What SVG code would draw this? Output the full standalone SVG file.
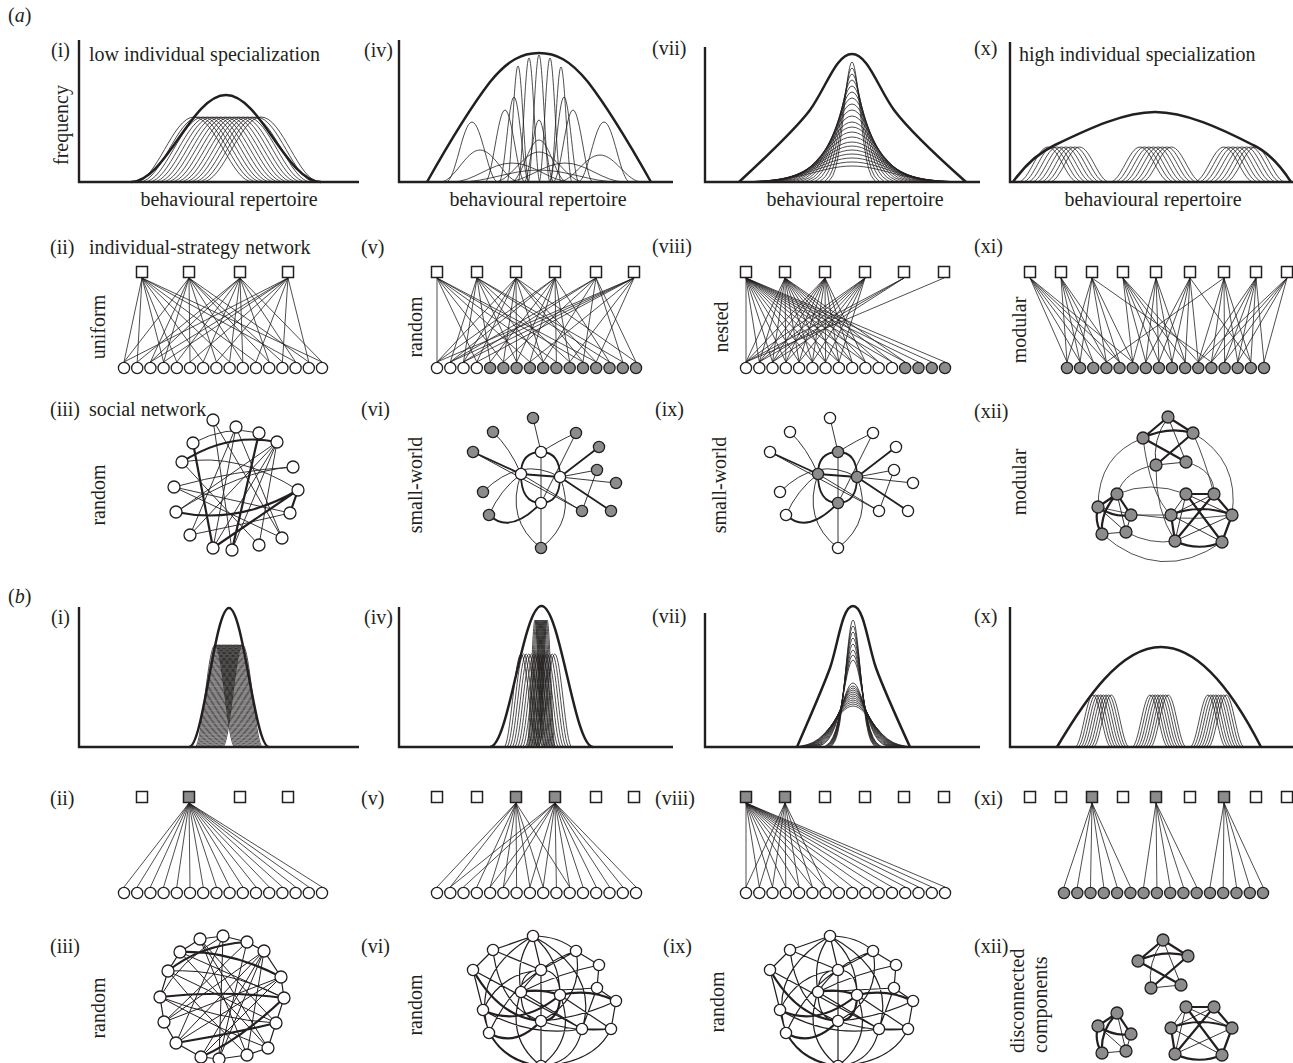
<svg xmlns="http://www.w3.org/2000/svg" width="1293" height="1063" viewBox="0 0 1293 1063">
<style>
.t{font-family:"Liberation Serif","Times New Roman",serif;font-size:20px;fill:#231f20}
.ax{stroke:#231f20;stroke-width:2.4;fill:none}
.env{fill:none;stroke:#231f20;stroke-width:2.5;stroke-linejoin:round}
.th{fill:none;stroke:#231f20;stroke-width:0.8;stroke-linejoin:round}
.u{vector-effect:non-scaling-stroke}
.e{fill:none;stroke:#231f20;stroke-width:0.9}
.eb{fill:none;stroke:#231f20;stroke-width:2.2}
.sq{fill:#fff;stroke:#231f20;stroke-width:1.5}
.sqg{fill:#8c8c8c;stroke:#231f20;stroke-width:1.5}
.cw{fill:#fff;stroke:#231f20;stroke-width:1.3}
.cg{fill:#8c8c8c;stroke:#231f20;stroke-width:1.3}
</style>
<defs>
<path id="bell" class="u" d="M0,0C0.1817,0 0.3183,-1 0.5,-1C0.6817,-1 0.8183,0 1,0"/>
<path id="gs" class="u" d="M-1,0L-0.9,-0.024L-0.8,-0.053L-0.7,-0.106L-0.6,-0.191L-0.5,-0.317L-0.4,-0.48L-0.35,-0.57L-0.3,-0.662L-0.25,-0.75L-0.2,-0.832L-0.15,-0.902L-0.1,-0.955L-0.05,-0.989L0,-1L0.05,-0.989L0.1,-0.955L0.15,-0.902L0.2,-0.832L0.25,-0.75L0.3,-0.662L0.35,-0.57L0.4,-0.48L0.5,-0.317L0.6,-0.191L0.7,-0.106L0.8,-0.053L0.9,-0.024L1,0"/>
<g id="ax8">
<use href="#bell" transform="translate(0,0) scale(60,35)"/><use href="#bell" transform="translate(4.5,0) scale(60,35)"/><use href="#bell" transform="translate(9,0) scale(60,35)"/><use href="#bell" transform="translate(13.5,0) scale(60,35)"/><use href="#bell" transform="translate(18,0) scale(60,35)"/><use href="#bell" transform="translate(22.5,0) scale(60,35)"/><use href="#bell" transform="translate(27,0) scale(60,35)"/><use href="#bell" transform="translate(31.5,0) scale(60,35)"/>
</g>
<g id="bx8">
<use href="#bell" transform="translate(0,0) scale(36,52)"/><use href="#bell" transform="translate(2.6,0) scale(36,52)"/><use href="#bell" transform="translate(5.2,0) scale(36,52)"/><use href="#bell" transform="translate(7.8,0) scale(36,52)"/><use href="#bell" transform="translate(10.4,0) scale(36,52)"/><use href="#bell" transform="translate(13,0) scale(36,52)"/><use href="#bell" transform="translate(15.6,0) scale(36,52)"/><use href="#bell" transform="translate(18.2,0) scale(36,52)"/>
</g>
<g id="hubs"><circle cx="541" cy="452" r="5.6"/><circle cx="521" cy="474" r="5.6"/><circle cx="560" cy="477" r="5.6"/><circle cx="541" cy="503" r="5.6"/></g>
<g id="peri"><circle cx="533" cy="418" r="5.6"/><circle cx="493" cy="432" r="5.6"/><circle cx="576" cy="433" r="5.6"/><circle cx="599" cy="447" r="5.6"/><circle cx="473" cy="452" r="5.6"/><circle cx="597" cy="470" r="5.6"/><circle cx="616" cy="483" r="5.6"/><circle cx="483" cy="492" r="5.6"/><circle cx="582" cy="511" r="5.6"/><circle cx="611" cy="511" r="5.6"/><circle cx="489" cy="515" r="5.6"/><circle cx="541" cy="548" r="5.6"/></g>
<g id="sw-e">
<path class="eb" style="stroke-width:1.8" d="M541,452Q521,452 521,474M541,452Q560,452 560,477M521,474Q521,503 541,503M560,477Q560,503 541,503M521,474L560,477M599,447L560,477M473,452L521,474M611,511L560,477M489,515Q510,535 541,503"/>
<path class="e" d="M541,452L541,503M533,418L541,452M493,432Q510,448 521,474M576,433L541,503M576,433Q560,440 541,452M473,452L582,511M597,470L560,477M597,470L582,511M616,483L560,477M483,492Q520,455 560,477M582,511L521,474M489,515Q500,490 521,474M541,548Q505,520 521,474M541,548Q577,520 560,477M541,548L541,503"/>
</g>
<g id="dn-e">
<path class="e" style="stroke-width:1.2" d="M493,432L533,418M533,418Q560,418 576,433M576,433L599,447M599,447L597,470M597,470L616,483M616,483L611,511M611,511L582,511M473,452L493,432M473,452L483,492M483,492L489,515M489,515Q505,545 541,548M582,511Q575,545 541,548M541,452Q521,452 521,474M541,452Q560,452 560,477M521,474Q521,503 541,503M541,452L541,503M533,418L541,452M533,418Q515,440 521,474M533,418Q560,440 560,477M533,418Q470,455 489,515M533,418Q600,455 582,511M493,432L541,452M493,432Q500,490 541,503M576,433L541,452M576,433Q540,445 521,474M576,433Q585,480 541,503M599,447Q560,455 521,474M473,452L582,511M597,470L521,474M597,470L582,511M616,483Q580,500 541,503M483,492Q500,455 541,452M582,511L521,474M611,511Q575,515 541,503M489,515Q510,470 541,452M541,548Q505,520 521,474M541,548Q577,520 560,477M541,548Q490,540 483,492M541,548Q595,545 611,511M483,492Q530,520 582,511M611,511L560,477M541,548L541,503"/>
<path class="eb" d="M521,474Q540,470 560,477M560,477Q560,503 541,503M473,452Q500,500 541,503M616,483Q590,470 560,477M483,492Q520,510 560,477M489,515Q515,530 541,503"/>
</g>
<g id="mT-e">
<path class="eb" d="M1168,417L1143,438M1143,438Q1168,426 1193,433M1143,438L1186,462M1193,433L1156,465M1168,417L1193,433"/>
<path class="e" d="M1168,417Q1152,440 1156,465M1168,417L1186,462M1156,465L1186,462"/>
</g>
<g id="mL-e">
<path class="eb" d="M1117,494L1098,507M1117,494L1131,515M1098,507Q1114,518 1131,515M1098,507Q1094,522 1102,534M1117,494Q1100,512 1102,534"/>
<path class="e" d="M1131,515L1126,532M1102,534L1126,532M1098,507L1126,532M1117,494L1126,532"/>
</g>
<g id="mR-e">
<path class="eb" d="M1186,494L1214,494M1214,494L1232,515M1171,515Q1200,503 1232,515M1171,515L1175,541M1232,515L1222,542M1175,541Q1198,552 1222,542M1186,494L1222,542M1214,494L1175,541"/>
<path class="e" d="M1186,494L1171,515M1186,494L1175,541M1214,494L1171,515M1232,515L1175,541M1171,515L1222,542M1186,494L1232,515"/>
</g>
<g id="mT-n"><circle cx="1168" cy="417" r="6"/><circle cx="1143" cy="438" r="6"/><circle cx="1193" cy="433" r="6"/><circle cx="1156" cy="465" r="6"/><circle cx="1186" cy="462" r="6"/></g>
<g id="mL-n"><circle cx="1117" cy="494" r="6"/><circle cx="1098" cy="507" r="6"/><circle cx="1131" cy="515" r="6"/><circle cx="1102" cy="534" r="6"/><circle cx="1126" cy="532" r="6"/></g>
<g id="mR-n"><circle cx="1186" cy="494" r="6"/><circle cx="1214" cy="494" r="6"/><circle cx="1171" cy="515" r="6"/><circle cx="1232" cy="515" r="6"/><circle cx="1175" cy="541" r="6"/><circle cx="1222" cy="542" r="6"/></g>
</defs>
<rect width="1293" height="1063" fill="#fff"/>

<g id="labels">
<text class="t" x="8" y="22">(<tspan font-style="italic">a</tspan>)</text>
<text class="t" x="8" y="603">(<tspan font-style="italic">b</tspan>)</text>
<text class="t" x="51" y="57">(i)</text>
<text class="t" x="364" y="57">(iv)</text>
<text class="t" x="652" y="55">(vii)</text>
<text class="t" x="974" y="55">(x)</text>
<text class="t" x="89" y="61">low individual specialization</text>
<text class="t" x="1019" y="61">high individual specialization</text>
<text class="t" x="68" y="125" text-anchor="middle" transform="rotate(-90 68 125)">frequency</text>
<text class="t" x="229" y="206" text-anchor="middle">behavioural repertoire</text>
<text class="t" x="538" y="206" text-anchor="middle">behavioural repertoire</text>
<text class="t" x="855" y="206" text-anchor="middle">behavioural repertoire</text>
<text class="t" x="1153" y="206" text-anchor="middle">behavioural repertoire</text>
<text class="t" x="50" y="254">(ii)</text>
<text class="t" x="89" y="254">individual-strategy network</text>
<text class="t" x="361" y="254">(v)</text>
<text class="t" x="652" y="253">(viii)</text>
<text class="t" x="974" y="253">(xi)</text>
<text class="t" x="105" y="327" text-anchor="middle" transform="rotate(-90 105 327)">uniform</text>
<text class="t" x="422" y="327" text-anchor="middle" transform="rotate(-90 422 327)">random</text>
<text class="t" x="728" y="327" text-anchor="middle" transform="rotate(-90 728 327)">nested</text>
<text class="t" x="1026" y="330" text-anchor="middle" transform="rotate(-90 1026 330)">modular</text>
<text class="t" x="50" y="416">(iii)</text>
<text class="t" x="89" y="416">social network</text>
<text class="t" x="361" y="416">(vi)</text>
<text class="t" x="655" y="416">(ix)</text>
<text class="t" x="974" y="418">(xii)</text>
<text class="t" x="105" y="495" text-anchor="middle" transform="rotate(-90 105 495)">random</text>
<text class="t" x="422" y="485" text-anchor="middle" transform="rotate(-90 422 485)">small-world</text>
<text class="t" x="726" y="485" text-anchor="middle" transform="rotate(-90 726 485)">small-world</text>
<text class="t" x="1026" y="482" text-anchor="middle" transform="rotate(-90 1026 482)">modular</text>
<text class="t" x="51" y="624">(i)</text>
<text class="t" x="364" y="624">(iv)</text>
<text class="t" x="652" y="623">(vii)</text>
<text class="t" x="974" y="623">(x)</text>
<text class="t" x="50" y="805">(ii)</text>
<text class="t" x="361" y="805">(v)</text>
<text class="t" x="655" y="805">(viii)</text>
<text class="t" x="974" y="805">(xi)</text>
<text class="t" x="50" y="953">(iii)</text>
<text class="t" x="361" y="953">(vi)</text>
<text class="t" x="663" y="953">(ix)</text>
<text class="t" x="974" y="953">(xii)</text>
<text class="t" x="105" y="1008" text-anchor="middle" transform="rotate(-90 105 1008)">random</text>
<text class="t" x="422" y="1005" text-anchor="middle" transform="rotate(-90 422 1005)">random</text>
<text class="t" x="724" y="1002" text-anchor="middle" transform="rotate(-90 724 1002)">random</text>
<text class="t" x="1024" y="1053" transform="rotate(-90 1024 1053)">disconnected</text>
<text class="t" x="1047" y="1053" transform="rotate(-90 1047 1053)">components</text>
</g>

<g id="a-i">
<path class="ax" d="M79,40V182H359"/>
<g class="th">
<use href="#bell" transform="translate(135,182) scale(118,65)"/><use href="#bell" transform="translate(139.47,182) scale(118,65)"/><use href="#bell" transform="translate(143.94,182) scale(118,65)"/><use href="#bell" transform="translate(148.41,182) scale(118,65)"/><use href="#bell" transform="translate(152.88,182) scale(118,65)"/><use href="#bell" transform="translate(157.35,182) scale(118,65)"/><use href="#bell" transform="translate(161.82,182) scale(118,65)"/><use href="#bell" transform="translate(166.29,182) scale(118,65)"/><use href="#bell" transform="translate(170.76,182) scale(118,65)"/><use href="#bell" transform="translate(175.23,182) scale(118,65)"/><use href="#bell" transform="translate(179.7,182) scale(118,65)"/><use href="#bell" transform="translate(184.17,182) scale(118,65)"/><use href="#bell" transform="translate(188.64,182) scale(118,65)"/><use href="#bell" transform="translate(193.11,182) scale(118,65)"/><use href="#bell" transform="translate(197.58,182) scale(118,65)"/><use href="#bell" transform="translate(202.05,182) scale(118,65)"/>
</g>
<use href="#bell" class="env" transform="translate(131,182) scale(190,87)"/>
</g>

<g id="a-iv">
<path class="ax" d="M399,40V182H673"/>
<g class="th">
<use href="#bell" transform="translate(507,182) scale(22,116)"/><use href="#bell" transform="translate(518,182) scale(22,124)"/><use href="#bell" transform="translate(528,182) scale(22,127)"/><use href="#bell" transform="translate(539,182) scale(22,124)"/><use href="#bell" transform="translate(550,182) scale(22,115)"/><use href="#bell" transform="translate(499,182) scale(30,85)"/><use href="#bell" transform="translate(549,182) scale(30,85)"/><use href="#bell" transform="translate(524,182) scale(30,62)"/><use href="#bell" transform="translate(446,182) scale(52,60)"/><use href="#bell" transform="translate(578,182) scale(52,60)"/><use href="#bell" transform="translate(440,182) scale(80,32)"/><use href="#bell" transform="translate(494,182) scale(90,30)"/><use href="#bell" transform="translate(558,182) scale(84,27)"/><use href="#bell" transform="translate(452,182) scale(120,19)"/><use href="#bell" transform="translate(505,182) scale(120,19)"/><use href="#bell" transform="translate(511,182) scale(56,42)"/><use href="#bell" transform="translate(459,182) scale(160,12)"/><use href="#bell" transform="translate(485,182) scale(40,72)"/><use href="#bell" transform="translate(553,182) scale(40,72)"/>
</g>
<path class="env" d="M427,182C445,150 470,108 490,82C508,60 522,53 539,53C556,53 570,60 588,82C608,108 633,150 651,182"/>
</g>

<g id="a-vii">
<path class="ax" d="M705,47V182H980"/>
<g class="th">
<use href="#gs" transform="translate(852,182) scale(24,120)"/><use href="#gs" transform="translate(852,182) scale(28,114)"/><use href="#gs" transform="translate(852,182) scale(33,108)"/><use href="#gs" transform="translate(852,182) scale(38,102)"/><use href="#gs" transform="translate(852,182) scale(43,96)"/><use href="#gs" transform="translate(852,182) scale(48,90)"/><use href="#gs" transform="translate(852,182) scale(53,84)"/><use href="#gs" transform="translate(852,182) scale(58,78)"/><use href="#gs" transform="translate(852,182) scale(63,72)"/><use href="#gs" transform="translate(852,182) scale(68,66)"/><use href="#gs" transform="translate(852,182) scale(73,60)"/><use href="#gs" transform="translate(852,182) scale(78,55)"/><use href="#gs" transform="translate(852,182) scale(82,50)"/><use href="#gs" transform="translate(852,182) scale(86,45)"/><use href="#gs" transform="translate(852,182) scale(90,40)"/><use href="#gs" transform="translate(852,182) scale(94,36)"/><use href="#gs" transform="translate(852,182) scale(98,32)"/><use href="#gs" transform="translate(852,182) scale(102,28)"/><use href="#gs" transform="translate(852,182) scale(106,24)"/><use href="#gs" transform="translate(852,182) scale(110,20)"/><use href="#gs" transform="translate(852,182) scale(113,16)"/>
</g>
<path class="env" d="M739,182C765,158 795,130 810,110C826,88 836,54 852,54C868,54 878,88 894,110C909,130 939,158 966,182"/>
</g>

<g id="a-x">
<path class="ax" d="M1010,42V182H1293"/>
<g class="th">
<use href="#ax8" transform="translate(1018,182)"/><use href="#ax8" transform="translate(1110,182)"/><use href="#ax8" transform="translate(1194,182)"/>
</g>
<path class="env" d="M1013,182C1025,165 1040,152 1055,145C1090,128 1125,112 1155,112C1185,112 1220,128 1253,145C1268,152 1280,165 1291,182"/>
</g>

<g id="b-i">
<path class="ax" d="M79,607V747H359"/>
<g class="th">
<use href="#bell" transform="translate(195,747) scale(40,102)"/><use href="#bell" transform="translate(196.2,747) scale(40,102)"/><use href="#bell" transform="translate(197.4,747) scale(40,102)"/><use href="#bell" transform="translate(198.6,747) scale(40,102)"/><use href="#bell" transform="translate(199.8,747) scale(40,102)"/><use href="#bell" transform="translate(201,747) scale(40,102)"/><use href="#bell" transform="translate(202.2,747) scale(40,102)"/><use href="#bell" transform="translate(203.4,747) scale(40,102)"/><use href="#bell" transform="translate(204.6,747) scale(40,102)"/><use href="#bell" transform="translate(205.8,747) scale(40,102)"/><use href="#bell" transform="translate(207,747) scale(40,102)"/><use href="#bell" transform="translate(208.2,747) scale(40,102)"/><use href="#bell" transform="translate(209.4,747) scale(40,102)"/><use href="#bell" transform="translate(210.6,747) scale(40,102)"/><use href="#bell" transform="translate(211.8,747) scale(40,102)"/><use href="#bell" transform="translate(213,747) scale(40,102)"/><use href="#bell" transform="translate(214.2,747) scale(40,102)"/><use href="#bell" transform="translate(215.4,747) scale(40,102)"/><use href="#bell" transform="translate(216.6,747) scale(40,102)"/><use href="#bell" transform="translate(217.8,747) scale(40,102)"/><use href="#bell" transform="translate(219,747) scale(40,102)"/><use href="#bell" transform="translate(220.2,747) scale(40,102)"/><use href="#bell" transform="translate(221.4,747) scale(40,102)"/><use href="#bell" transform="translate(222.6,747) scale(40,102)"/>
</g>
<use href="#bell" class="env" transform="translate(189,747) scale(80,139)"/>
</g>

<g id="b-iv">
<path class="ax" d="M399,607V747H673"/>
<g class="th">
<use href="#bell" transform="translate(527,747) scale(16,127)"/><use href="#bell" transform="translate(528.1,747) scale(16,127)"/><use href="#bell" transform="translate(529.2,747) scale(16,127)"/><use href="#bell" transform="translate(530.3,747) scale(16,127)"/><use href="#bell" transform="translate(531.4,747) scale(16,127)"/><use href="#bell" transform="translate(532.5,747) scale(16,127)"/><use href="#bell" transform="translate(533.6,747) scale(16,127)"/><use href="#bell" transform="translate(534.7,747) scale(16,127)"/><use href="#bell" transform="translate(535.8,747) scale(16,127)"/><use href="#bell" transform="translate(536.9,747) scale(16,127)"/><use href="#bell" transform="translate(538,747) scale(16,127)"/><use href="#bell" transform="translate(539.1,747) scale(16,127)"/>
<use href="#bell" transform="translate(504,747) scale(34,93)"/><use href="#bell" transform="translate(506.6,747) scale(34,93)"/><use href="#bell" transform="translate(509.2,747) scale(34,93)"/><use href="#bell" transform="translate(511.8,747) scale(34,93)"/><use href="#bell" transform="translate(514.4,747) scale(34,93)"/><use href="#bell" transform="translate(517,747) scale(34,93)"/><use href="#bell" transform="translate(519.6,747) scale(34,93)"/><use href="#bell" transform="translate(522.2,747) scale(34,93)"/><use href="#bell" transform="translate(524.8,747) scale(34,93)"/><use href="#bell" transform="translate(527.4,747) scale(34,93)"/><use href="#bell" transform="translate(530,747) scale(34,93)"/><use href="#bell" transform="translate(532.6,747) scale(34,93)"/><use href="#bell" transform="translate(535.2,747) scale(34,93)"/><use href="#bell" transform="translate(537.8,747) scale(34,93)"/>
</g>
<use href="#bell" class="env" transform="translate(490,747) scale(103,141)"/>
</g>

<g id="b-vii">
<path class="ax" d="M705,613V747H980"/>
<g class="th">
<use href="#gs" transform="translate(853,747) scale(22,127)"/><use href="#gs" transform="translate(853,747) scale(23,121)"/><use href="#gs" transform="translate(853,747) scale(24,115)"/><use href="#gs" transform="translate(853,747) scale(25,109)"/><use href="#gs" transform="translate(853,747) scale(26,103)"/><use href="#gs" transform="translate(853,747) scale(27,97)"/><use href="#gs" transform="translate(853,747) scale(28,92)"/><use href="#gs" transform="translate(853,747) scale(29,87)"/>
<use href="#gs" transform="translate(853,747) scale(36,64)"/><use href="#gs" transform="translate(853,747) scale(38,61)"/><use href="#gs" transform="translate(853,747) scale(40,59)"/><use href="#gs" transform="translate(853,747) scale(42,57)"/><use href="#gs" transform="translate(853,747) scale(44,55)"/><use href="#gs" transform="translate(853,747) scale(46,53)"/><use href="#gs" transform="translate(853,747) scale(48,51)"/><use href="#gs" transform="translate(853,747) scale(50,49)"/><use href="#gs" transform="translate(853,747) scale(52,47)"/><use href="#gs" transform="translate(853,747) scale(54,45)"/><use href="#gs" transform="translate(853,747) scale(56,43)"/><use href="#gs" transform="translate(853,747) scale(58,41)"/>
</g>
<path class="env" d="M797,747C812,712 822,690 830,668C838,645 842,606 853,606C864,606 868,645 876,668C884,690 894,712 910,747"/>
</g>

<g id="b-x">
<path class="ax" d="M1010,607V747H1293"/>
<g class="th">
<use href="#bx8" transform="translate(1075,747)"/><use href="#bx8" transform="translate(1132,747)"/><use href="#bx8" transform="translate(1190,747)"/>
</g>
<path class="env" d="M1057,747C1085,700 1120,647 1161,647C1202,647 1237,700 1261,747"/>
</g>

<g id="connectors">
<path id="e-a-ii" class="e" style="stroke-width:0.8" d="M142,278L124,362M142,278L137.2,362M142,278L163.6,362M142,278L176.8,362M142,278L203.2,362M142,278L229.6,362M142,278L256,362M142,278L295.6,362M142,278L322,362M189,278L124,362M189,278L150.4,362M189,278L163.6,362M189,278L190,362M189,278L216.4,362M189,278L242.8,362M189,278L269.2,362M189,278L282.4,362M189,278L308.8,362M240,278L137.2,362M240,278L150.4,362M240,278L176.8,362M240,278L203.2,362M240,278L229.6,362M240,278L242.8,362M240,278L269.2,362M240,278L295.6,362M240,278L322,362M288,278L124,362M288,278L150.4,362M288,278L163.6,362M288,278L190,362M288,278L216.4,362M288,278L256,362M288,278L282.4,362M288,278L308.8,362"/>
<path id="e-a-v" class="e" style="stroke-width:0.8" d="M437,278L437,362M437,278L476.8,362M437,278L503.4,362M437,278L529.9,362M437,278L556.4,362M437,278L583,362M437,278L596.2,362M477,278L450.3,362M477,278L463.5,362M477,278L490.1,362M477,278L516.6,362M477,278L543.2,362M477,278L569.7,362M477,278L609.5,362M477,278L622.8,362M516,278L437,362M516,278L463.5,362M516,278L476.8,362M516,278L503.4,362M516,278L516.6,362M516,278L543.2,362M516,278L583,362M516,278L596.2,362M516,278L636,362M555,278L437,362M555,278L450.3,362M555,278L490.1,362M555,278L516.6,362M555,278L529.9,362M555,278L556.4,362M555,278L569.7,362M555,278L609.5,362M596,278L450.3,362M596,278L463.5,362M596,278L503.4,362M596,278L543.2,362M596,278L583,362M596,278L622.8,362M596,278L636,362M634,278L437,362M634,278L450.3,362M634,278L463.5,362M634,278L476.8,362M634,278L529.9,362M634,278L569.7,362M634,278L596.2,362"/>
<path id="e-a-viii" class="e" style="stroke-width:0.8" d="M746,278L746,362M746,278L759.3,362M746,278L772.5,362M746,278L785.8,362M746,278L799.1,362M746,278L812.4,362M746,278L825.6,362M746,278L838.9,362M746,278L852.2,362M746,278L865.4,362M746,278L878.7,362M746,278L892,362M746,278L905.2,362M746,278L918.5,362M746,278L931.8,362M746,278L945,362M785,278L746,362M785,278L759.3,362M785,278L772.5,362M785,278L785.8,362M785,278L799.1,362M785,278L812.4,362M785,278L825.6,362M785,278L838.9,362M785,278L852.2,362M785,278L865.4,362M785,278L878.7,362M785,278L892,362M785,278L905.2,362M825,278L746,362M825,278L759.3,362M825,278L772.5,362M825,278L785.8,362M825,278L799.1,362M825,278L812.4,362M825,278L825.6,362M825,278L838.9,362M825,278L852.2,362M825,278L865.4,362M865,278L746,362M865,278L759.3,362M865,278L772.5,362M865,278L785.8,362M865,278L799.1,362M865,278L812.4,362M865,278L825.6,362M865,278L838.9,362M904,278L746,362M904,278L759.3,362M904,278L772.5,362M944,278L746,362"/>
<path id="e-a-xi" class="e" style="stroke-width:0.8" d="M1030,278L1067,362M1030,278L1080.1,362M1030,278L1093.3,362M1030,278L1106.4,362M1030,278L1119.5,362M1030,278L1132.7,362M1061,278L1067,362M1061,278L1080.1,362M1061,278L1093.3,362M1061,278L1106.4,362M1061,278L1119.5,362M1092,278L1067,362M1092,278L1080.1,362M1092,278L1106.4,362M1092,278L1119.5,362M1092,278L1132.7,362M1092,278L1211.4,362M1123,278L1132.7,362M1123,278L1145.8,362M1123,278L1158.9,362M1123,278L1172,362M1123,278L1185.2,362M1123,278L1198.3,362M1156,278L1132.7,362M1156,278L1145.8,362M1156,278L1158.9,362M1156,278L1172,362M1156,278L1185.2,362M1190,278L1145.8,362M1190,278L1158.9,362M1190,278L1172,362M1190,278L1185.2,362M1190,278L1198.3,362M1190,278L1250.8,362M1224,278L1106.4,362M1224,278L1198.3,362M1224,278L1211.4,362M1224,278L1224.6,362M1224,278L1237.7,362M1224,278L1250.8,362M1256,278L1198.3,362M1256,278L1211.4,362M1256,278L1224.6,362M1256,278L1237.7,362M1256,278L1250.8,362M1256,278L1264,362M1287,278L1198.3,362M1287,278L1211.4,362M1287,278L1224.6,362M1287,278L1237.7,362M1287,278L1264,362"/>
<path id="e-b-ii" class="e" style="stroke-width:0.8" d="M189,803L124,887M189,803L137.2,887M189,803L150.4,887M189,803L163.6,887M189,803L176.8,887M189,803L190,887M189,803L203.2,887M189,803L216.4,887M189,803L229.6,887M189,803L242.8,887M189,803L256,887M189,803L269.2,887M189,803L282.4,887M189,803L295.6,887M189,803L308.8,887M189,803L322,887"/>
<path id="e-b-v" class="e" style="stroke-width:0.8" d="M516,803L437,887M516,803L450.3,887M516,803L476.8,887M516,803L490.1,887M516,803L503.4,887M516,803L516.6,887M516,803L529.9,887M516,803L543.2,887M516,803L569.7,887M555,803L450.3,887M555,803L463.5,887M555,803L490.1,887M555,803L503.4,887M555,803L529.9,887M555,803L543.2,887M555,803L556.4,887M555,803L569.7,887M555,803L583,887M555,803L596.2,887M555,803L609.5,887M555,803L622.8,887M555,803L636,887"/>
<path id="e-b-viii" class="e" style="stroke-width:0.8" d="M746,803L746,887M746,803L759.3,887M746,803L772.5,887M746,803L785.8,887M746,803L799.1,887M746,803L812.4,887M746,803L825.6,887M746,803L838.9,887M746,803L852.2,887M746,803L865.4,887M746,803L878.7,887M746,803L892,887M746,803L905.2,887M746,803L918.5,887M746,803L931.8,887M746,803L945,887M785,803L746,887M785,803L759.3,887M785,803L772.5,887M785,803L785.8,887M785,803L799.1,887M785,803L812.4,887M785,803L825.6,887"/>
<path id="e-b-xi" class="e" style="stroke-width:0.8" d="M1092,803L1064,887M1092,803L1077.3,887M1092,803L1090.5,887M1092,803L1103.8,887M1092,803L1117.1,887M1092,803L1130.4,887M1156,803L1143.6,887M1156,803L1156.9,887M1156,803L1170.2,887M1156,803L1183.4,887M1156,803L1196.7,887M1224,803L1210,887M1224,803L1223.2,887M1224,803L1236.5,887M1224,803L1249.8,887M1224,803L1263,887"/>
<g id="e-a-iii">
<path class="e" d="M213,420L232,550M236,427L213,548M277,442L213,548M277,442L232,550M277,442L259,545M277,442L190,535M277,442L176,512M182,462Q238,452 298,490M174,487Q236,470 293,467M290,513Q240,525 190,535M193,443Q226,425 259,433M174,487L282,538M182,462L259,545M190,535L236,427M176,512Q240,470 293,467M282,538L213,420M290,513Q232,500 174,487M236,427L282,538"/>
<path class="eb" d="M182,462Q228,432 277,442M193,443L213,548M298,490Q238,525 176,512M298,490L290,513M259,433L232,550M298,490L213,548"/>
</g>
<use id="e-a-vi" href="#sw-e"/>
<use id="e-a-ix" href="#sw-e" transform="translate(297,0)"/>
<g id="e-a-xii">
<use href="#mT-e"/><use href="#mL-e"/><use href="#mR-e"/>
<path class="e" style="stroke-width:0.8" d="M1143,438Q1098,455 1098,507M1193,433Q1240,460 1232,515M1156,465Q1125,470 1117,494M1186,462Q1215,470 1214,494M1143,438Q1150,495 1171,515M1193,433Q1205,460 1214,494M1156,465Q1155,510 1175,541M1117,494Q1150,480 1186,494M1131,515L1171,515M1126,532Q1150,545 1175,541M1102,534Q1160,585 1222,542M1098,507Q1165,525 1232,515"/>
</g>
<g id="e-b-iii">
<path class="e" style="stroke-width:1.2" d="M200,939L223,936L247,942L264,951L281,977L284,998L276,1023L268,1048L247,1055L219,1059L201,1057L176,1043L164,1022L160,997L168,971L180,952Z"/>
<path class="e" style="stroke-width:1" d="M264,951L247,1055M264,951L219,1059M264,951L201,1057M264,951L176,1043M264,951L164,1022M168,971Q226,968 284,998M160,997Q220,1020 276,1023M164,1022L281,977M200,939L247,1055M200,939Q240,985 276,1023M223,936L219,1059M223,936L176,1043M223,936Q180,960 160,997M247,942L164,1022M281,977L176,1043M276,1023L168,971M268,1048L180,952M268,1048L200,939M247,1055Q200,1010 168,971M219,1059L247,942M201,1057L281,977M180,952L284,998M160,997Q220,1030 268,1048"/>
<path class="eb" d="M180,952Q230,950 281,977M160,997Q222,990 284,998M284,998Q240,1040 201,1057M176,1043Q225,1035 276,1023M247,942Q200,945 168,971"/>
</g>
<use id="e-b-vi" href="#dn-e" transform="translate(0,518)"/>
<use id="e-b-ix" href="#dn-e" transform="translate(297,518)"/>
<g id="e-b-xii">
<use href="#mT-e" transform="translate(-5,523)"/><use href="#mL-e" transform="translate(0,519)"/><use href="#mR-e" transform="translate(0,513)"/>
</g>
</g>

<g id="nodes-a-ii">
<rect class="sq" x="136.5" y="266.5" width="11" height="11"/><rect class="sq" x="183.5" y="266.5" width="11" height="11"/><rect class="sq" x="234.5" y="266.5" width="11" height="11"/><rect class="sq" x="282.5" y="266.5" width="11" height="11"/>
<g class="cw"><circle cx="124" cy="368" r="5.6"/><circle cx="137.2" cy="368" r="5.6"/><circle cx="150.4" cy="368" r="5.6"/><circle cx="163.6" cy="368" r="5.6"/><circle cx="176.8" cy="368" r="5.6"/><circle cx="190" cy="368" r="5.6"/><circle cx="203.2" cy="368" r="5.6"/><circle cx="216.4" cy="368" r="5.6"/><circle cx="229.6" cy="368" r="5.6"/><circle cx="242.8" cy="368" r="5.6"/><circle cx="256" cy="368" r="5.6"/><circle cx="269.2" cy="368" r="5.6"/><circle cx="282.4" cy="368" r="5.6"/><circle cx="295.6" cy="368" r="5.6"/><circle cx="308.8" cy="368" r="5.6"/><circle cx="322" cy="368" r="5.6"/></g>
</g>
<g id="nodes-a-v">
<rect class="sq" x="431.5" y="266.5" width="11" height="11"/><rect class="sq" x="471.5" y="266.5" width="11" height="11"/><rect class="sq" x="510.5" y="266.5" width="11" height="11"/><rect class="sq" x="549.5" y="266.5" width="11" height="11"/><rect class="sq" x="590.5" y="266.5" width="11" height="11"/><rect class="sq" x="628.5" y="266.5" width="11" height="11"/>
<g class="cw"><circle cx="437" cy="368" r="5.6"/><circle cx="450.3" cy="368" r="5.6"/><circle cx="463.5" cy="368" r="5.6"/><circle cx="476.8" cy="368" r="5.6"/></g>
<g class="cg"><circle cx="490.1" cy="368" r="5.6"/><circle cx="503.4" cy="368" r="5.6"/><circle cx="516.6" cy="368" r="5.6"/><circle cx="529.9" cy="368" r="5.6"/><circle cx="543.2" cy="368" r="5.6"/><circle cx="556.4" cy="368" r="5.6"/><circle cx="569.7" cy="368" r="5.6"/><circle cx="583" cy="368" r="5.6"/><circle cx="596.2" cy="368" r="5.6"/><circle cx="609.5" cy="368" r="5.6"/><circle cx="622.8" cy="368" r="5.6"/><circle cx="636" cy="368" r="5.6"/></g>
</g>
<g id="nodes-a-viii">
<rect class="sq" x="740.5" y="266.5" width="11" height="11"/><rect class="sq" x="779.5" y="266.5" width="11" height="11"/><rect class="sq" x="819.5" y="266.5" width="11" height="11"/><rect class="sq" x="859.5" y="266.5" width="11" height="11"/><rect class="sq" x="898.5" y="266.5" width="11" height="11"/><rect class="sq" x="938.5" y="266.5" width="11" height="11"/>
<g class="cw"><circle cx="746" cy="368" r="5.6"/><circle cx="759.3" cy="368" r="5.6"/><circle cx="772.5" cy="368" r="5.6"/><circle cx="785.8" cy="368" r="5.6"/><circle cx="799.1" cy="368" r="5.6"/><circle cx="812.4" cy="368" r="5.6"/><circle cx="825.6" cy="368" r="5.6"/><circle cx="838.9" cy="368" r="5.6"/><circle cx="852.2" cy="368" r="5.6"/><circle cx="865.4" cy="368" r="5.6"/><circle cx="878.7" cy="368" r="5.6"/><circle cx="892" cy="368" r="5.6"/></g>
<g class="cg"><circle cx="905.2" cy="368" r="5.6"/><circle cx="918.5" cy="368" r="5.6"/><circle cx="931.8" cy="368" r="5.6"/><circle cx="945" cy="368" r="5.6"/></g>
</g>
<g id="nodes-a-xi">
<rect class="sq" x="1024.5" y="266.5" width="11" height="11"/><rect class="sq" x="1055.5" y="266.5" width="11" height="11"/><rect class="sq" x="1086.5" y="266.5" width="11" height="11"/><rect class="sq" x="1117.5" y="266.5" width="11" height="11"/><rect class="sq" x="1150.5" y="266.5" width="11" height="11"/><rect class="sq" x="1184.5" y="266.5" width="11" height="11"/><rect class="sq" x="1218.5" y="266.5" width="11" height="11"/><rect class="sq" x="1250.5" y="266.5" width="11" height="11"/><rect class="sq" x="1281.5" y="266.5" width="11" height="11"/>
<g class="cg"><circle cx="1067" cy="368" r="5.6"/><circle cx="1080.1" cy="368" r="5.6"/><circle cx="1093.3" cy="368" r="5.6"/><circle cx="1106.4" cy="368" r="5.6"/><circle cx="1119.5" cy="368" r="5.6"/><circle cx="1132.7" cy="368" r="5.6"/><circle cx="1145.8" cy="368" r="5.6"/><circle cx="1158.9" cy="368" r="5.6"/><circle cx="1172" cy="368" r="5.6"/><circle cx="1185.2" cy="368" r="5.6"/><circle cx="1198.3" cy="368" r="5.6"/><circle cx="1211.4" cy="368" r="5.6"/><circle cx="1224.6" cy="368" r="5.6"/><circle cx="1237.7" cy="368" r="5.6"/><circle cx="1250.8" cy="368" r="5.6"/><circle cx="1264" cy="368" r="5.6"/></g>
</g>

<g id="nodes-a-iii" class="cw">
<circle cx="213" cy="420" r="6"/><circle cx="236" cy="427" r="6"/><circle cx="259" cy="433" r="6"/><circle cx="193" cy="443" r="6"/><circle cx="277" cy="442" r="6"/><circle cx="182" cy="462" r="6"/><circle cx="293" cy="467" r="6"/><circle cx="174" cy="487" r="6"/><circle cx="298" cy="490" r="6"/><circle cx="176" cy="512" r="6"/><circle cx="290" cy="513" r="6"/><circle cx="190" cy="535" r="6"/><circle cx="282" cy="538" r="6"/><circle cx="213" cy="548" r="6"/><circle cx="232" cy="550" r="6"/><circle cx="259" cy="545" r="6"/>
</g>
<g id="nodes-a-vi"><use href="#peri" class="cg"/><use href="#hubs" class="cw"/></g>
<g id="nodes-a-ix" transform="translate(297,0)"><use href="#peri" class="cw"/><use href="#hubs" class="cg"/></g>
<g id="nodes-a-xii" class="cg"><use href="#mT-n"/><use href="#mL-n"/><use href="#mR-n"/></g>

<g id="nodes-b-ii">
<rect class="sq" x="136.5" y="791.5" width="11" height="11"/><rect class="sqg" x="183.5" y="791.5" width="11" height="11"/><rect class="sq" x="234.5" y="791.5" width="11" height="11"/><rect class="sq" x="282.5" y="791.5" width="11" height="11"/>
<g class="cw"><circle cx="124" cy="893" r="5.6"/><circle cx="137.2" cy="893" r="5.6"/><circle cx="150.4" cy="893" r="5.6"/><circle cx="163.6" cy="893" r="5.6"/><circle cx="176.8" cy="893" r="5.6"/><circle cx="190" cy="893" r="5.6"/><circle cx="203.2" cy="893" r="5.6"/><circle cx="216.4" cy="893" r="5.6"/><circle cx="229.6" cy="893" r="5.6"/><circle cx="242.8" cy="893" r="5.6"/><circle cx="256" cy="893" r="5.6"/><circle cx="269.2" cy="893" r="5.6"/><circle cx="282.4" cy="893" r="5.6"/><circle cx="295.6" cy="893" r="5.6"/><circle cx="308.8" cy="893" r="5.6"/><circle cx="322" cy="893" r="5.6"/></g>
</g>
<g id="nodes-b-v">
<rect class="sq" x="431.5" y="791.5" width="11" height="11"/><rect class="sq" x="471.5" y="791.5" width="11" height="11"/><rect class="sqg" x="510.5" y="791.5" width="11" height="11"/><rect class="sqg" x="549.5" y="791.5" width="11" height="11"/><rect class="sq" x="590.5" y="791.5" width="11" height="11"/><rect class="sq" x="628.5" y="791.5" width="11" height="11"/>
<g class="cw"><circle cx="437" cy="893" r="5.6"/><circle cx="450.3" cy="893" r="5.6"/><circle cx="463.5" cy="893" r="5.6"/><circle cx="476.8" cy="893" r="5.6"/><circle cx="490.1" cy="893" r="5.6"/><circle cx="503.4" cy="893" r="5.6"/><circle cx="516.6" cy="893" r="5.6"/><circle cx="529.9" cy="893" r="5.6"/><circle cx="543.2" cy="893" r="5.6"/><circle cx="556.4" cy="893" r="5.6"/><circle cx="569.7" cy="893" r="5.6"/><circle cx="583" cy="893" r="5.6"/><circle cx="596.2" cy="893" r="5.6"/><circle cx="609.5" cy="893" r="5.6"/><circle cx="622.8" cy="893" r="5.6"/><circle cx="636" cy="893" r="5.6"/></g>
</g>
<g id="nodes-b-viii">
<rect class="sqg" x="740.5" y="791.5" width="11" height="11"/><rect class="sqg" x="779.5" y="791.5" width="11" height="11"/><rect class="sq" x="819.5" y="791.5" width="11" height="11"/><rect class="sq" x="859.5" y="791.5" width="11" height="11"/><rect class="sq" x="898.5" y="791.5" width="11" height="11"/><rect class="sq" x="938.5" y="791.5" width="11" height="11"/>
<g class="cw"><circle cx="746" cy="893" r="5.6"/><circle cx="759.3" cy="893" r="5.6"/><circle cx="772.5" cy="893" r="5.6"/><circle cx="785.8" cy="893" r="5.6"/><circle cx="799.1" cy="893" r="5.6"/><circle cx="812.4" cy="893" r="5.6"/><circle cx="825.6" cy="893" r="5.6"/><circle cx="838.9" cy="893" r="5.6"/><circle cx="852.2" cy="893" r="5.6"/><circle cx="865.4" cy="893" r="5.6"/><circle cx="878.7" cy="893" r="5.6"/><circle cx="892" cy="893" r="5.6"/><circle cx="905.2" cy="893" r="5.6"/><circle cx="918.5" cy="893" r="5.6"/><circle cx="931.8" cy="893" r="5.6"/><circle cx="945" cy="893" r="5.6"/></g>
</g>
<g id="nodes-b-xi">
<rect class="sq" x="1024.5" y="791.5" width="11" height="11"/><rect class="sq" x="1055.5" y="791.5" width="11" height="11"/><rect class="sqg" x="1086.5" y="791.5" width="11" height="11"/><rect class="sq" x="1117.5" y="791.5" width="11" height="11"/><rect class="sqg" x="1150.5" y="791.5" width="11" height="11"/><rect class="sq" x="1184.5" y="791.5" width="11" height="11"/><rect class="sqg" x="1218.5" y="791.5" width="11" height="11"/><rect class="sq" x="1250.5" y="791.5" width="11" height="11"/><rect class="sq" x="1281.5" y="791.5" width="11" height="11"/>
<g class="cg"><circle cx="1064" cy="893" r="5.6"/><circle cx="1077.3" cy="893" r="5.6"/><circle cx="1090.5" cy="893" r="5.6"/><circle cx="1103.8" cy="893" r="5.6"/><circle cx="1117.1" cy="893" r="5.6"/><circle cx="1130.4" cy="893" r="5.6"/><circle cx="1143.6" cy="893" r="5.6"/><circle cx="1156.9" cy="893" r="5.6"/><circle cx="1170.2" cy="893" r="5.6"/><circle cx="1183.4" cy="893" r="5.6"/><circle cx="1196.7" cy="893" r="5.6"/><circle cx="1210" cy="893" r="5.6"/><circle cx="1223.2" cy="893" r="5.6"/><circle cx="1236.5" cy="893" r="5.6"/><circle cx="1249.8" cy="893" r="5.6"/><circle cx="1263" cy="893" r="5.6"/></g>
</g>

<g id="nodes-b-iii" class="cw">
<circle cx="200" cy="939" r="6"/><circle cx="223" cy="936" r="6"/><circle cx="247" cy="942" r="6"/><circle cx="264" cy="951" r="6"/><circle cx="281" cy="977" r="6"/><circle cx="284" cy="998" r="6"/><circle cx="276" cy="1023" r="6"/><circle cx="268" cy="1048" r="6"/><circle cx="247" cy="1055" r="6"/><circle cx="219" cy="1059" r="6"/><circle cx="201" cy="1057" r="6"/><circle cx="176" cy="1043" r="6"/><circle cx="164" cy="1022" r="6"/><circle cx="160" cy="997" r="6"/><circle cx="168" cy="971" r="6"/><circle cx="180" cy="952" r="6"/>
</g>
<g id="nodes-b-vi" transform="translate(0,518)"><use href="#peri" class="cw"/><use href="#hubs" class="cw"/></g>
<g id="nodes-b-ix" transform="translate(297,518)"><use href="#peri" class="cw"/><use href="#hubs" class="cw"/></g>
<g id="nodes-b-xii" class="cg"><use href="#mT-n" transform="translate(-5,523)"/><use href="#mL-n" transform="translate(0,519)"/><use href="#mR-n" transform="translate(0,513)"/></g>
</svg>
